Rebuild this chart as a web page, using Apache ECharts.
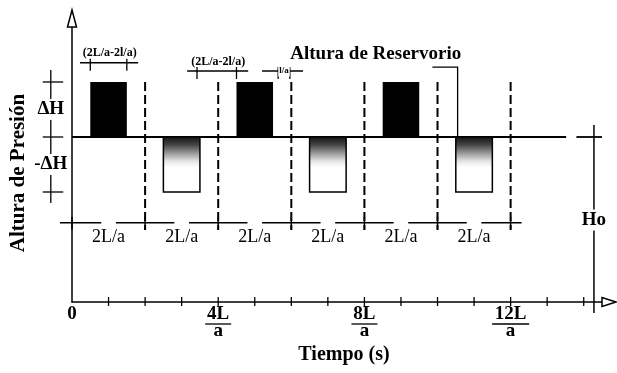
<!DOCTYPE html>
<html><head><meta charset="utf-8">
<script src="https://cdn.jsdelivr.net/npm/echarts@6/dist/echarts.min.js"></script>
<style>html,body{margin:0;padding:0;background:#fff}#c{width:617px;height:373px}</style>
</head><body><div id="c"></div>
<script>
const FONT = '"Liberation Serif", "Times New Roman", serif';
// Heads (in ΔH units) — Ho and ΔH
const reservoirHead = 3;
const surge = 1;
// Pressure pulses (time in L/a units)
const highStart = [0.5, 4.5, 8.5];
const highEnd   = [1.5, 5.5, 9.5];
const lowStart  = [2.5, 6.5, 10.5];
const lowEnd    = [3.5, 7.5, 11.5];
// Period boundaries (dashed lines) and 2L/a intervals
const boundaryTimes = [2, 4, 6, 8, 10, 12];
const crossTimes = [0, 2, 4, 6, 8, 10, 12];
const intervalCenters = [1, 3, 5, 7, 9, 11];
const intervalLabels = ['2L/a', '2L/a', '2L/a', '2L/a', '2L/a', '2L/a'];
const dimLevel = 1.44;
const dimSegFrom = [-0.33, 1.2, 3.2, 5.2, 7.2, 9.2, 11.2];
const dimSegTo   = [0.8, 2.8, 4.8, 6.8, 8.8, 10.8, 12.3];
const dashBottom = 1.31;
// X axis ticks & labels
const tickTimes = [1, 2, 3, 4, 5, 6, 7, 8, 9, 10, 11, 12, 13, 14];
const labelTimes = [0, 4, 8, 12];
const labelNum = ['0', '4L', '8L', '12L'];
const labelDen = ['', 'a', 'a', 'a'];
// Left ΔH dimension
const leftDimX = -0.58;
const leftDimTop = 4.22, leftDimBottom = 1.8;
const leftCrossLevels = [4, 3, 2];
const leftCrossFrom = -0.8, leftCrossTo = -0.24;
const leftLabels = ['ΔH', '-ΔH'];
const leftLabelLevels = [3.5, 2.5];
// Top dimension annotations
const annoText = ['(2L/a-2l/a)', '(2L/a-2l/a)', 'l/a'];
const annoLineFrom = [0.22, 3.15, 5.2];
const annoLineTo = [1.81, 4.82, 6.32];
const annoTickA = [0.5, 3.42, 5.64];
const annoTickB = [1.5, 4.5, 5.96];
const annoLineY = [4.35, 4.2, 4.2];
const annoTextX = [1.03, 4.0, 5.8];
const annoTextY = [4.53, 4.36, 4.2];
// Reservoir label & leader
const reservoirLabel = 'Altura de Reservorio';
const reservoirLabelPos = [8.31, 4.51];
const leaderPath = [[9.86, 4.27], [10.55, 4.27], [10.55, 3]];
// Reservoir line segments, Ho marker
const refSegFrom = [0, 13.8];
const refSegTo = [13.52, 14.5];
const hoX = 14.28, hoTop = 3.22, hoBottom = -0.2, hoLabelLevel = 1.49;

const chart = echarts.init(document.getElementById('c'));
function seg(api, x1, y1, x2, y2, w, dash) {
  const a = api.coord([x1, y1]), b = api.coord([x2, y2]);
  return { type: 'line', shape: { x1: a[0], y1: a[1], x2: b[0], y2: b[1] },
    style: { stroke: '#000', lineWidth: w || 1.5, lineDash: dash || null } };
}
function txt(api, x, y, text, font, bg) {
  const p = api.coord([x, y]);
  return { type: 'text', x: p[0], y: p[1],
    style: { text: text, font: font, fill: '#000', align: 'center', verticalAlign: 'middle',
      backgroundColor: bg ? '#fff' : null, padding: bg ? [1, 1] : 0 } };
}

const option = {
  animation: false,
  backgroundColor: '#fff',
  grid: { left: 72, right: 15, top: 27, bottom: 71 },
  xAxis: {
    type: 'value', min: 0, max: 14.5, interval: 1,
    axisLine: { show: true, lineStyle: { color: '#000', width: 1.5 } },
    axisTick: { show: false }, splitLine: { show: false },
    axisLabel: {
      margin: 4, showMaxLabel: false,
      formatter: function (v) {
        const i = labelTimes.indexOf(v);
        if (i < 0) return '';
        return labelDen[i] ? '{n|' + labelNum[i] + '}\n{d|' + labelDen[i] + '}' : '{n|' + labelNum[i] + '}';
      },
      rich: {
        n: { fontFamily: FONT, fontWeight: 'bold', fontSize: 19, lineHeight: 17, color: '#000' },
        d: { fontFamily: FONT, fontWeight: 'bold', fontSize: 19, lineHeight: 17, color: '#000' }
      }
    }
  },
  yAxis: {
    type: 'value', min: 0, max: 5, interval: 1,
    axisLine: { show: true, lineStyle: { color: '#000', width: 1.5 } },
    axisTick: { show: false }, axisLabel: { show: false }, splitLine: { show: false }
  },
  graphic: [
    { type: 'text', x: 19, y: 173, rotation: Math.PI / 2,
      style: { text: 'Altura de Presión', font: 'bold 21px ' + FONT, fill: '#000', align: 'center', verticalAlign: 'middle' } },
    { type: 'text', x: 344, y: 355,
      style: { text: 'Tiempo (s)', font: 'bold 20px ' + FONT, fill: '#000', align: 'center', verticalAlign: 'middle' } }
  ],
  series: [
    { // reservoir level line
      type: 'custom', z: 2, data: refSegFrom.map((s, i) => [s, refSegTo[i]]),
      renderItem: (p, api) => seg(api, api.value(0), reservoirHead, api.value(1), reservoirHead, 1.8)
    },
    { // dashed period boundaries
      type: 'custom', z: 2, data: boundaryTimes.map(t => [t]),
      renderItem: (p, api) => seg(api, api.value(0), reservoirHead + surge, api.value(0), dashBottom, 2, [9, 4])
    },
    { // high pressure pulses
      type: 'custom', z: 3, data: highStart.map((s, i) => [s, highEnd[i]]),
      renderItem: (p, api) => {
        const a = api.coord([api.value(0), reservoirHead + surge]);
        const b = api.coord([api.value(1), reservoirHead]);
        return { type: 'rect', shape: { x: a[0], y: a[1], width: b[0] - a[0], height: b[1] - a[1] }, style: { fill: '#000' } };
      }
    },
    { // low pressure pulses
      type: 'custom', z: 3, data: lowStart.map((s, i) => [s, lowEnd[i]]),
      renderItem: (p, api) => {
        const a = api.coord([api.value(0), reservoirHead]);
        const b = api.coord([api.value(1), reservoirHead - surge]);
        return { type: 'rect', shape: { x: a[0], y: a[1], width: b[0] - a[0], height: b[1] - a[1] },
          style: { stroke: '#000', lineWidth: 1.5,
            fill: { type: 'linear', x: 0, y: 0, x2: 0, y2: 1, colorStops: [
              { offset: 0, color: '#111' }, { offset: 0.15, color: '#444' },
              { offset: 0.3, color: '#999' }, { offset: 0.45, color: '#e8e8e8' }, { offset: 0.55, color: '#fff' }, { offset: 1, color: '#fff' }] } } };
      }
    },
    { // 2L/a dimension line segments
      type: 'custom', z: 2, data: dimSegFrom.map((s, i) => [s, dimSegTo[i]]),
      renderItem: (p, api) => seg(api, api.value(0), dimLevel, api.value(1), dimLevel, 1.5)
    },
    { // crosses on 2L/a dimension line
      type: 'custom', z: 2, data: crossTimes.map(t => [t]),
      renderItem: (p, api) => {
        const c = api.coord([api.value(0), dimLevel]);
        return { type: 'line', shape: { x1: c[0], y1: c[1] - 6, x2: c[0], y2: c[1] + 7 }, style: { stroke: '#000', lineWidth: 1.5 } };
      }
    },
    { // 2L/a labels
      type: 'custom', z: 4, data: intervalCenters.map(t => [t]),
      renderItem: (p, api) => txt(api, api.value(0), 1.17, intervalLabels[p.dataIndex], '18px ' + FONT)
    },
    { // x axis crossing ticks
      type: 'custom', z: 2, data: tickTimes.map(t => [t]),
      renderItem: (p, api) => {
        const c = api.coord([api.value(0), 0]);
        return { type: 'line', shape: { x1: c[0], y1: c[1] - 5, x2: c[0], y2: c[1] + 4 }, style: { stroke: '#000', lineWidth: 1.3 } };
      }
    },
    { // fraction bars under tick labels
      type: 'custom', z: 2, data: labelTimes.map(t => [t]),
      renderItem: (p, api) => {
        if (!labelDen[p.dataIndex]) return null;
        const c = api.coord([api.value(0), 0]);
        const w = labelNum[p.dataIndex].length * 11 + 4;
        return { type: 'line', shape: { x1: c[0] - w / 2, y1: c[1] + 22, x2: c[0] + w / 2, y2: c[1] + 22 }, style: { stroke: '#000', lineWidth: 1.3 } };
      }
    },
    { // left ΔH dimension line + crosses
      type: 'custom', z: 2, data: leftCrossLevels.map(v => [leftDimX, v]),
      renderItem: (p, api) => {
        const ch = [seg(api, leftCrossFrom, api.value(1), leftCrossTo, api.value(1), 1.3)];
        if (p.dataIndex === 0) ch.push(seg(api, leftDimX, leftDimTop, leftDimX, leftDimBottom, 1.3));
        return { type: 'group', children: ch };
      }
    },
    { // ΔH labels
      type: 'custom', z: 4, data: leftLabelLevels.map(v => [leftDimX, v]),
      renderItem: (p, api) => txt(api, api.value(0), api.value(1), leftLabels[p.dataIndex], 'bold 19px ' + FONT, true)
    },
    { // top dimension annotations
      type: 'custom', z: 4, data: annoLineFrom.map((s, i) => [s, annoLineY[i]]),
      renderItem: (p, api) => {
        const i = p.dataIndex, y = annoLineY[i];
        const ta = api.coord([annoTickA[i], y]), tb = api.coord([annoTickB[i], y]);
        return { type: 'group', children: [
          seg(api, annoLineFrom[i], y, annoLineTo[i], y, 1.3),
          { type: 'line', shape: { x1: ta[0], y1: ta[1] - 4, x2: ta[0], y2: ta[1] + 8 }, style: { stroke: '#000', lineWidth: 1.3 } },
          { type: 'line', shape: { x1: tb[0], y1: tb[1] - 4, x2: tb[0], y2: tb[1] + 8 }, style: { stroke: '#000', lineWidth: 1.3 } },
          txt(api, annoTextX[i], annoTextY[i], annoText[i], (i === 2 ? 'bold 9px ' : 'bold 12px ') + FONT, i === 2)
        ] };
      }
    },
    { // reservoir label and leader
      type: 'custom', z: 4, data: [reservoirLabelPos],
      renderItem: (p, api) => {
        const pts = leaderPath.map(q => api.coord(q));
        return { type: 'group', children: [
          { type: 'polyline', shape: { points: pts }, style: { stroke: '#000', lineWidth: 1.3, fill: null } },
          txt(api, api.value(0), api.value(1), reservoirLabel, 'bold 19px ' + FONT)
        ] };
      }
    },
    { // Ho marker
      type: 'custom', z: 4, data: [[hoX, hoLabelLevel]],
      renderItem: (p, api) => ({ type: 'group', children: [
        seg(api, hoX, hoTop, hoX, hoBottom, 1.5),
        txt(api, api.value(0), api.value(1), 'Ho', 'bold 19px ' + FONT, true)
      ] })
    },
    { // hollow arrow heads at axis ends
      type: 'custom', z: 5, data: [[0, 5, 0], [14.5, 0, 1]],
      renderItem: (p, api) => {
        const c = api.coord([api.value(0), api.value(1)]);
        const pts = api.value(2) === 0
          ? [[c[0], c[1] - 17], [c[0] - 4.5, c[1]], [c[0] + 4.5, c[1]]]
          : [[c[0] + 14, c[1]], [c[0], c[1] - 4.5], [c[0], c[1] + 4.5]];
        return { type: 'polygon', shape: { points: pts }, style: { fill: '#fff', stroke: '#000', lineWidth: 1.5 } };
      }
    }
  ]
};
chart.setOption(option);
</script>
</body></html>
